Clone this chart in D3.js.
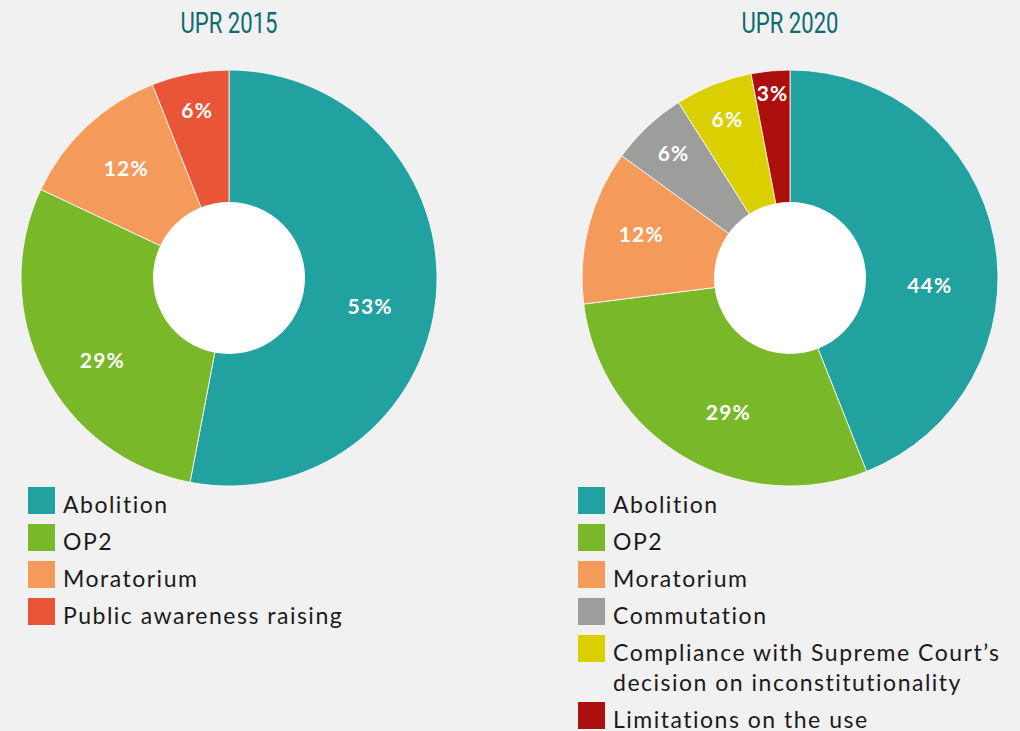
<!DOCTYPE html>
<html>
<head>
<meta charset="utf-8">
<script src="https://cdn.jsdelivr.net/npm/d3@7"></script>
<style>
  html, body { margin: 0; padding: 0; background: #f1f1f1; }
  svg { display: block; }
</style>
</head>
<body>
<div id="chart"></div>
<script>
// UPR recommendations on the death penalty - two donut charts

const categories2015 = ['Abolition', 'OP2', 'Moratorium', 'Public awareness raising'];
const values2015 = [53, 29, 12, 6];

const categories2020 = ['Abolition', 'OP2', 'Moratorium', 'Commutation',
    'Compliance with Supreme Court\u2019s decision on inconstitutionality', 'Limitations on the use'];
const values2020 = [44, 29, 12, 6, 6, 3];

const colorMap = {
    'Abolition': '#21a19f',
    'OP2': '#79b829',
    'Moratorium': '#f49b5c',
    'Public awareness raising': '#e95537',
    'Commutation': '#9d9d9b',
    'Compliance with Supreme Court\u2019s decision on inconstitutionality': '#dacf00',
    'Limitations on the use': '#ad0f0c'
};

// legend text is wrapped by hand where the original wraps
const legendLines = {
    'Compliance with Supreme Court\u2019s decision on inconstitutionality':
        ['Compliance with Supreme Court\u2019s', 'decision on inconstitutionality']
};

const width = 1020, height = 731;
const outerR = 208, innerR = 76;

const svg = d3.select('#chart')
    .append('svg')
    .attr('width', width)
    .attr('height', height);

svg.append('rect')
    .attr('width', width)
    .attr('height', height)
    .attr('fill', '#f1f1f1');

// label placement tweaks (degrees added to the mid angle, radius)
const labelTweak = {
    '2015-Abolition': { da: 6, r: 144 },
    '2015-OP2': { da: -6, r: 151 },
    '2015-Moratorium': { r: 150 },
    '2020-Abolition': { da: 14, r: 140 },
    '2020-OP2': { da: -6, r: 148 },
    '2020-Moratorium': { da: 2, r: 155 }
};

const textFont = 'Lato, "Open Sans", sans-serif';

function drawDonut(title, cats, vals, cx, legendX, key) {
    const g = svg.append('g')
        .attr('transform', `translate(${cx},278)`);

    svg.append('text')
        .attr('x', cx)
        .attr('y', 33)
        .attr('text-anchor', 'middle')
        .attr('textLength', 97)
        .attr('lengthAdjust', 'spacingAndGlyphs')
        .style('font-family', 'Roboto, sans-serif')
        .style('font-weight', 400)
        .style('font-size', '29px')
        .style('fill', '#0e6a70')
        .text(title);

    const data = cats.map((c, i) => ({ name: c, value: vals[i] }));

    const pie = d3.pie()
        .sort(null)
        .value(d => d.value);

    const arc = d3.arc()
        .innerRadius(0)
        .outerRadius(outerR);

    const arcs = pie(data);

    g.selectAll('path')
        .data(arcs)
        .enter()
        .append('path')
        .attr('d', arc)
        .attr('fill', d => colorMap[d.data.name])
        .attr('stroke', '#ffffff')
        .attr('stroke-width', 0.8);

    // white hole
    g.append('circle')
        .attr('r', innerR)
        .attr('fill', '#ffffff');

    g.selectAll('.pct')
        .data(arcs)
        .enter()
        .append('text')
        .attr('class', 'pct')
        .attr('text-anchor', 'middle')
        .attr('dy', '0.35em')
        .attr('transform', d => {
            const t = labelTweak[key + '-' + d.data.name] || {};
            const share = d.data.value / 100;
            const r = t.r || (share < 0.05 ? 185 : share < 0.1 ? 170 : 153);
            const a = (d.startAngle + d.endAngle) / 2 + (t.da || 0) * Math.PI / 180;
            return `translate(${r * Math.sin(a)},${-r * Math.cos(a)})`;
        })
        .style('font-family', textFont)
        .style('font-weight', 'bold')
        .style('font-size', '21px')
        .style('letter-spacing', '1.2px')
        .style('fill', '#ffffff')
        .text(d => d.data.value + '%');

    // legend
    const legend = svg.append('g')
        .attr('transform', `translate(${legendX},487)`);

    let y = 0;
    cats.forEach(c => {
        const lines = legendLines[c] || [c];
        legend.append('rect')
            .attr('x', 0)
            .attr('y', y)
            .attr('width', 27)
            .attr('height', 27)
            .attr('fill', colorMap[c]);
        lines.forEach((ln, j) => {
            legend.append('text')
                .attr('x', 35)
                .attr('y', y + 26 + j * 30)
                .style('font-family', textFont)
                .style('font-size', '23px')
                .style('letter-spacing', '1.5px')
                .style('fill', '#1a1a1a')
                .text(ln);
        });
        y += 37 + (lines.length - 1) * 30;
    });
}

drawDonut('UPR 2015', categories2015, values2015, 229, 28, '2015');
drawDonut('UPR 2020', categories2020, values2020, 790, 578, '2020');
</script>
</body>
</html>
